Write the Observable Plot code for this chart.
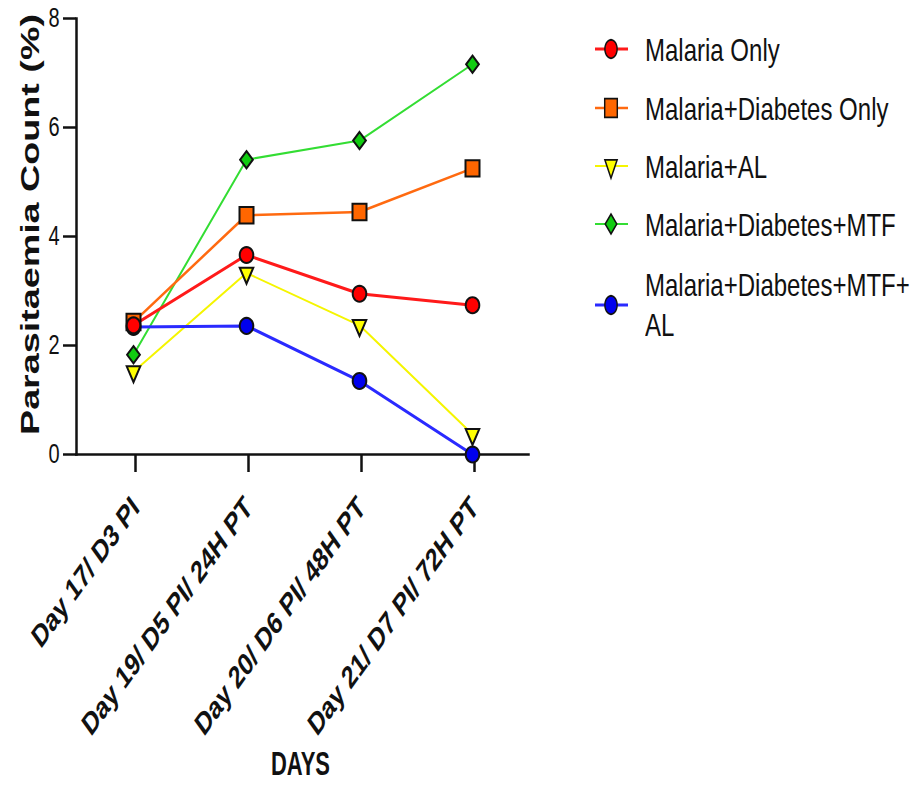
<!DOCTYPE html>
<html>
<head>
<meta charset="utf-8">
<script src="https://cdn.jsdelivr.net/npm/d3@7"></script>
<script src="https://cdn.jsdelivr.net/npm/@observablehq/plot@0.6"></script>
<style>
  html, body { margin: 0; padding: 0; background: #fff; }
  #wrap { position: relative; width: 918px; height: 795px; font-family: "Liberation Sans", Arial, sans-serif; }
  .lg-sym { position: absolute; left: 593px; width: 40px; height: 30px; }
  .lg-txt { position: absolute; left: 645px; font-size: 24px; line-height: 31px; color: #111;
            transform: scaleY(1.3); transform-origin: left center; max-width: 272px; white-space: normal; }
</style>
</head>
<body>
<div id="wrap"></div>
<script>
// ---------- data ----------
const days = ["Day 17/ D3 PI", "Day 19/ D5 PI/ 24H PT", "Day 20/ D6 PI/ 48H PT", "Day 21/ D7 PI/ 72H PT"];
const series = ["Malaria Only", "Malaria+Diabetes Only", "Malaria+AL", "Malaria+Diabetes+MTF", "Malaria+Diabetes+MTF+AL"];
const malariaOnly        = [2.37, 3.66, 2.95, 2.74];
const malariaDiabetes    = [2.43, 4.39, 4.45, 5.25];
const malariaAL          = [1.52, 3.33, 2.37, 0.37];
const malariaDiabMTF     = [1.83, 5.41, 5.76, 7.16];
const malariaDiabMTFAL   = [2.34, 2.36, 1.35, 0.00];
const yTicks = [0, 2, 4, 6, 8];
const xTitle = "DAYS";
const yTitle = "Parasitaemia Count (%)";

// ---------- style ----------
const values = [malariaOnly, malariaDiabetes, malariaAL, malariaDiabMTF, malariaDiabMTFAL];
const lineColors = ["#ff1a1a", "#ff6a10", "#f5f500", "#33dd33", "#2a2aff"];
const fillColors = ["#ff0000", "#ff6600", "#ffff00", "#11cc11", "#0000ee"];
const lineWidths = [3, 2.5, 2, 2, 3];

function poly(pts) {
  return { draw(ctx) { ctx.moveTo(pts[0][0], pts[0][1]); for (let k = 1; k < pts.length; k++) ctx.lineTo(pts[k][0], pts[k][1]); ctx.closePath(); } };
}
const ellipsePts = d3.range(28).map(k => [6.8 * Math.cos(2 * Math.PI * k / 28), 8 * Math.sin(2 * Math.PI * k / 28)]);
const symbols = [
  poly(ellipsePts),
  poly([[-7, -8.2], [7, -8.2], [7, 8.2], [-7, 8.2]]),
  poly([[-6.8, -5.3], [6.8, -5.3], [0, 10.6]]),
  poly([[0, -8.6], [6.4, 0], [0, 8.6], [-6.4, 0]]),
  poly(ellipsePts)
];

const rows = series.flatMap((s, i) => values[i].map((v, j) => ({ series: s, day: days[j], value: v, si: i })));
const drawOrderLines = [2, 3, 4, 1, 0];
const drawOrderDots = [2, 3, 4, 1, 0];

const marks = [
  Plot.frame({ anchor: "left", strokeWidth: 2.5, stroke: "#111" }),
  Plot.frame({ anchor: "bottom", strokeWidth: 2.5, stroke: "#111" }),
  Plot.axisY({ ticks: yTicks, tickSize: 13, tickPadding: 4, fontSize: 20, label: null, strokeWidth: 2.5, stroke: "#111", fill: "#111", tickFormat: d => String(d) }),
  Plot.axisX({ tickSize: 18, tickPadding: 30, tickRotate: -45, fontSize: 22.5, fontWeight: "bold", dx: 2, label: null, strokeWidth: 2.5, stroke: "#111", fill: "#111" }),
  ...drawOrderLines.map(i => Plot.line(rows.filter(d => d.si === i), { x: "day", y: "value", stroke: lineColors[i], strokeWidth: lineWidths[i] })),
  ...drawOrderDots.map(i => Plot.dot(rows.filter(d => d.si === i), { x: "day", y: "value", symbol: symbols[i], r: 7, fill: fillColors[i], stroke: "#111", strokeWidth: 2 })),
  Plot.text([xTitle], { text: d => d, frameAnchor: "bottom", textAnchor: "middle", dx: -2, dy: 320, fontSize: 22, fontWeight: "bold", fill: "#111" }),
  Plot.text([yTitle], { text: d => d, frameAnchor: "left", textAnchor: "middle", rotate: -90, dx: -46, dy: -12, fontSize: 26, fontWeight: "bold", fill: "#111" })
];

const chart = Plot.plot({
  width: 918,
  height: 795,
  marginLeft: 76,
  marginRight: 390,
  marginTop: 18,
  marginBottom: 341,
  x: { type: "point", domain: days, padding: 0.5 },
  y: { domain: [0, 8] },
  style: { fontFamily: "'Liberation Sans', Arial, sans-serif", background: "#fff", color: "#111", overflow: "visible" },
  marks
});

const wrap = document.getElementById("wrap");
wrap.appendChild(chart);

// vertical stretch of texts to mimic the reference rendering
function stretch(node, s) {
  let t = node.getAttribute("transform") || "";
  if (/rotate\(/.test(t)) t = t.replace(/rotate\(/, `scale(1,${s}) rotate(`);
  else t = t + ` scale(1,${s})`;
  node.setAttribute("transform", t.trim());
}
chart.querySelectorAll('g[aria-label="x-axis tick label"] text').forEach(n => stretch(n, 1.4));
chart.querySelectorAll('g[aria-label="y-axis tick label"] text').forEach(n => stretch(n, 1.4));
chart.querySelectorAll('g[aria-label="text"] text').forEach(n => {
  if (n.textContent === xTitle) stretch(n, 1.5);
  else if (n.textContent === yTitle) stretch(n, 1.45);
});

// ---------- legend ----------
const rowCenters = [49, 108, 166, 224, 305];
series.forEach((s, i) => {
  const c = rowCenters[i];
  const p = d3.path();
  symbols[i].draw(p);
  const sym = document.createElement("div");
  sym.className = "lg-sym";
  sym.style.top = (c - 15) + "px";
  sym.innerHTML = `<svg width="40" height="30" viewBox="0 0 40 30">
    <line x1="2" x2="35" y1="15" y2="15" stroke="${lineColors[i]}" stroke-width="${lineWidths[i]}"/>
    <g transform="translate(18,15) scale(0.9,1.15)"><path d="${p.toString()}" fill="${fillColors[i]}" stroke="#111" stroke-width="1.6"/></g>
  </svg>`;
  wrap.appendChild(sym);
  const txt = document.createElement("div");
  txt.className = "lg-txt";
  txt.innerHTML = s.split("+").join("+<wbr>");
  wrap.appendChild(txt);
  const h = txt.getBoundingClientRect().height / 1.3;
  txt.style.top = (c - h / 2) + "px";
});
</script>
</body>
</html>
